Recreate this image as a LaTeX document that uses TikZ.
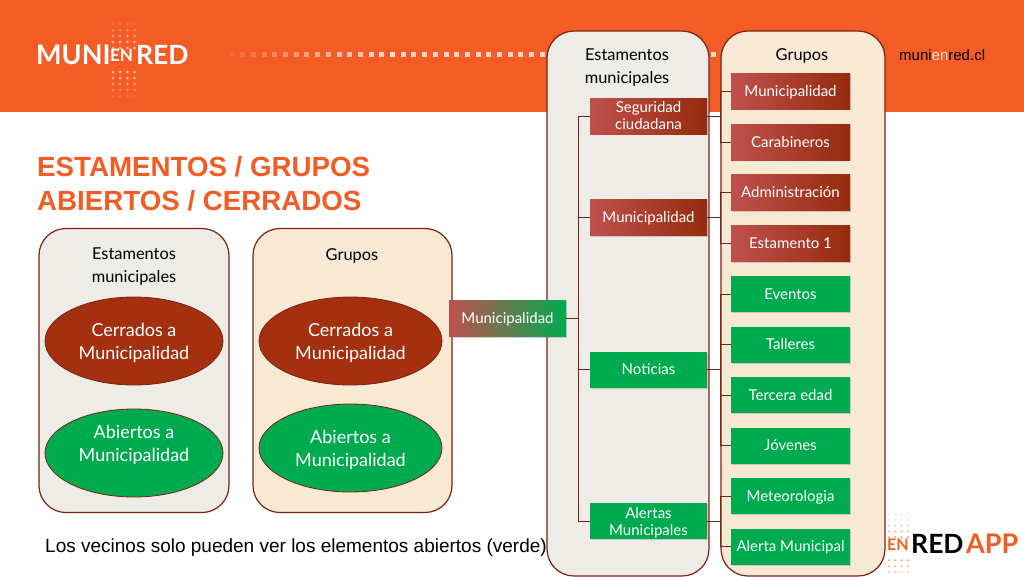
\documentclass[tikz,border=0pt]{standalone}
\usepackage{fontspec}
\setmainfont{Lato}
\newfontfamily\arialfont{Liberation Sans}
\usetikzlibrary{shapes.geometric,shadows,positioning,calc}
\definecolor{headorange}{HTML}{F45C25}
\definecolor{darkred}{HTML}{7A2312}
\definecolor{brickred}{HTML}{A5300F}
\definecolor{softred}{HTML}{C0504D}
\definecolor{okgreen}{HTML}{00AB50}
\definecolor{panelgrey}{HTML}{EEECE6}
\definecolor{panelcream}{HTML}{F8E9D5}
\newcommand{\blobstrut}{\rule{0pt}{17pt}}
\newcommand{\boxstrut}{\rule{0pt}{15pt}}
\tikzset{
    panel/.style={draw=darkred,line width=1.2pt,rounded corners=27pt,inner sep=0pt,outer sep=0pt},
    boxbase/.style={minimum height=36pt,inner sep=0pt,outer sep=0pt,align=center,text=white,
        font=\fontsize{15}{17}\selectfont,drop shadow={shadow xshift=0.8pt,shadow yshift=-1.2pt,opacity=0.35}},
    redbox/.style={boxbase,left color=softred,middle color=softred!88!brickred,right color=brickred!90!black},
    greenbox/.style={boxbase,fill=okgreen},
    oneline/.style={text height=13pt,text depth=3pt},
    blob/.style={ellipse,draw=darkred,line width=0.8pt,inner sep=0pt,outer sep=0pt,align=center,
        text=white,font=\fontsize{18}{23}\selectfont},
    heading/.style={align=center,text=black,font=\fontsize{16.4}{23}\selectfont},
    wire/.style={draw=darkred,line width=0.9pt}
}
\begin{document}
\begin{tikzpicture}[x=1pt,y=-1pt]
    \useasboundingbox (0,0) rectangle (1024,576);
    \fill[white] (0,0) rectangle (1024,576);

    % Header band
    \fill[headorange] (0,0) rectangle (1024,112);
    \foreach \i in {0,...,15}
        \fill[white,opacity={0.08+0.05*\i}] ({232+\i*10.7-2.5},51.5) rectangle ++(5,5);
    \foreach \i in {16,...,46}
        \fill[white,opacity=0.75] ({232+\i*10.7-2.5},51.5) rectangle ++(5,5);
    % Logo dots
    \foreach \r/\o in {0/0.12,1/0.25,2/0.4,3/0.5,4/0.6,8/0.6,9/0.5,10/0.4,11/0.25,12/0.12}
        \foreach \c in {0,...,3}
            \fill[white,opacity=\o] ({113+\c*7.2},{24+\r*6}) circle (1.5);
    \node[text=white,anchor=base west,inner sep=0pt,font=\fontsize{27}{27}\selectfont\bfseries] (munilogo) at (36,64) {MUNI};
    \node[text=white,anchor=base west,inner sep=0pt,font=\fontsize{17}{17}\selectfont\bfseries] (enlogo) at (110,61.5) {EN};
    \node[text=white,anchor=base west,inner sep=0pt,font=\fontsize{26.5}{27}\selectfont\bfseries] (redlogo) at (136,64) {RED};
    \node[anchor=west,inner sep=0pt,font=\arialfont\fontsize{15}{17}\selectfont] (website) at (899,55)
        {muni\textcolor{white!80!headorange}{en}red.cl};

    % Title
    \node[anchor=base west,inner sep=0pt,text=headorange,font=\arialfont\bfseries\fontsize{27.7}{33.5}\selectfont] (titlea) at (37,176) {ESTAMENTOS / GRUPOS};
    \node[anchor=base west,inner sep=0pt,text=headorange,font=\arialfont\bfseries\fontsize{27.7}{33.5}\selectfont] (titleb) at (37,210) {ABIERTOS / CERRADOS};

    % Lower left panels
    \node[panel,fill=panelgrey,minimum width=190pt,minimum height=284pt] (estpanel) at (134,370.5) {};
    \node[panel,fill=panelcream,minimum width=199pt,minimum height=284pt] (grppanel) at (352.5,370.5) {};
    \node[heading] (esthead) at (134,267) {Estamentos\\municipales};
    \node[heading] (grphead) at (352,256) {Grupos};
    \node[blob,fill=brickred,minimum width=178pt,minimum height=88pt] (estclosed) at (134,341) {\blobstrut Cerrados a\\Municipalidad};
    \node[blob,fill=okgreen,minimum width=178pt,minimum height=88pt] (estopen) at (134,453) {Abiertos a\\Municipalidad\\[-4pt]\mbox{}};
    \node[blob,fill=brickred,minimum width=183pt,minimum height=88pt] (grpclosed) at (350.5,341) {\blobstrut Cerrados a\\Municipalidad};
    \node[blob,fill=okgreen,minimum width=183pt,minimum height=88pt] (grpopen) at (350.5,448) {\blobstrut Abiertos a\\Municipalidad};

    % Tall panels
    \node[panel,fill=panelgrey,minimum width=162pt,minimum height=545pt] (estcol) at (628,303.5) {};
    \node[panel,fill=panelcream,minimum width=164pt,minimum height=545pt] (grpcol) at (803,303.5) {};
    \node[heading] (estcolhead) at (627,67.5) {Estamentos\\municipales};
    \node[heading] (grpcolhead) at (802,56) {Grupos};

    % Root
    \node[boxbase,oneline,left color=softred,right color=okgreen,minimum width=117pt] (root) at (507.5,318.5) {Municipalidad};

    % Estamentos
    \node[redbox,minimum width=117pt] (seguridad) at (648.5,116) {Seguridad\\ciudadana};
    \node[redbox,oneline,minimum width=117pt] (munibox) at (648.5,217.5) {Municipalidad};
    \node[greenbox,oneline,minimum width=117pt] (noticias) at (648.5,369.5) {Noticias};
    \node[greenbox,minimum width=117pt] (alertas) at (648.5,521) {\boxstrut Alertas\\Municipales};

    % Grupos
    \foreach \name/\ypos/\kind/\txt in {
        gmuni/91/redbox/Municipalidad,
        gcara/142/redbox/Carabineros,
        gadmin/192.5/redbox/Administración,
        gest/243.5/redbox/Estamento 1,
        geven/294/greenbox/Eventos,
        gtall/344.5/greenbox/Talleres,
        gterc/395/greenbox/Tercera edad,
        gjov/445.5/greenbox/Jóvenes,
        gmeteo/496/greenbox/Meteorologia,
        galert/546.5/greenbox/Alerta Municipal}
        \node[\kind,oneline,minimum width=119pt] (\name) at (790.5,\ypos) {\txt};

    % Connectors
    \coordinate (busa) at (578,318.5);
    \draw[wire] (root.east) -- (busa);
    \foreach \t in {seguridad,munibox,noticias,alertas}
        \draw[wire] (busa) |- (\t.west);
    \coordinate (busb) at (720,116);
    \draw[wire] (seguridad.east) -- (busb);
    \foreach \t in {gmuni,gcara}
        \draw[wire] (busb) |- (\t.west);
    \coordinate (busc) at (720,217.5);
    \draw[wire] (munibox.east) -- (busc);
    \foreach \t in {gadmin,gest}
        \draw[wire] (busc) |- (\t.west);
    \coordinate (busd) at (720,369.5);
    \draw[wire] (noticias.east) -- (busd);
    \foreach \t in {geven,gtall,gterc,gjov}
        \draw[wire] (busd) |- (\t.west);
    \coordinate (buse) at (720,521);
    \draw[wire] (alertas.east) -- (buse);
    \foreach \t in {gmeteo,galert}
        \draw[wire] (buse) |- (\t.west);

    % Footer
    \node[anchor=base west,inner sep=0pt,font=\arialfont\fontsize{19}{23}\selectfont] (note) at (45,552) {Los vecinos solo pueden ver los elementos abiertos (verde)};
    \foreach \r/\o in {0/0.12,1/0.2,2/0.3,3/0.4,4/0.5,8/0.5,9/0.4,10/0.3,11/0.2}
        \foreach \c in {0,...,3}
            \fill[headorange,opacity=\o] ({889+\c*6.3},{514+\r*5.8}) circle (1.3);
    \node[anchor=base west,inner sep=0pt,text=headorange,font=\fontsize{16}{16}\selectfont\bfseries] (enapp) at (887,550) {EN};
    \node[anchor=base west,inner sep=0pt,text=black,font=\fontsize{26.5}{26}\selectfont\bfseries] (redapp) at (911,553) {RED};
    \node[anchor=base west,inner sep=0pt,text=headorange,font=\fontsize{27}{26}\selectfont\bfseries] (appapp) at (966,553) {APP};
\end{tikzpicture}
\end{document}
